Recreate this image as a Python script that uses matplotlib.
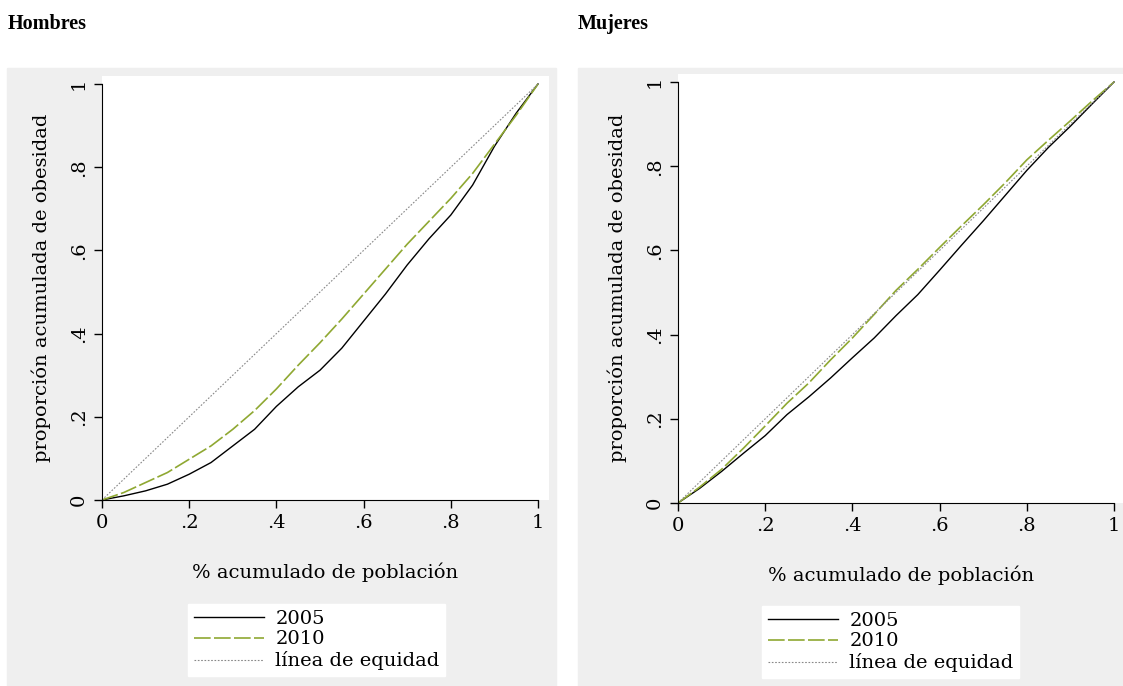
import matplotlib.pyplot as plt
from matplotlib.patches import Rectangle

# cumulative population share
pob = [0, .05, .1, .15, .2, .25, .3, .35, .4, .45, .5,
       .55, .6, .65, .7, .75, .8, .85, .9, .95, 1]

# Hombres
h2005 = [0, 0.01, 0.022, 0.038, 0.062, 0.09, 0.13, 0.17, 0.225, 0.272, 0.312,
         0.365, 0.43, 0.495, 0.565, 0.628, 0.685, 0.757, 0.85, 0.93, 1.0]
h2010 = [0, 0.018, 0.042, 0.066, 0.098, 0.13, 0.17, 0.215, 0.267, 0.324, 0.378,
         0.435, 0.495, 0.555, 0.615, 0.67, 0.725, 0.785, 0.855, 0.925, 1.0]

# Mujeres
m2005 = [0, 0.035, 0.075, 0.118, 0.16, 0.21, 0.252, 0.297, 0.345, 0.392, 0.445,
         0.495, 0.553, 0.612, 0.67, 0.73, 0.79, 0.845, 0.895, 0.948, 1.0]
m2010 = [0, 0.038, 0.08, 0.13, 0.183, 0.237, 0.285, 0.34, 0.392, 0.448, 0.505,
         0.555, 0.607, 0.658, 0.708, 0.76, 0.815, 0.862, 0.908, 0.955, 1.0]

ticks = [0, .2, .4, .6, .8, 1]
ticklabels = ['0', '.2', '.4', '.6', '.8', '1']
series_labels = ['2005', '2010', 'línea de equidad']

GREEN = '#8fa832'
GRAY_BG = '#efefef'
SERIF = ['DejaVu Serif']
TITLE_FONT = ['Liberation Serif', 'DejaVu Serif']

W, H = 1123, 686
fig = plt.figure(figsize=(W / 100, H / 100), dpi=100)


def px(x0, y_top, w, h):
    # pixel box (top-left origin) -> figure fraction
    return [x0 / W, 1 - (y_top + h) / H, w / W, h / H]


# grey graph regions, kept behind the axes
for x0, w in [(7, 549), (578, 545)]:
    fig.patches.append(Rectangle((x0 / W, 0), w / W, 1 - 68 / H,
                                 transform=fig.transFigure, color=GRAY_BG, zorder=-10))

fig.text(8 / W, 1 - 24 / H, 'Hombres', fontsize=14.5, fontweight='bold',
         family=TITLE_FONT, va='center', ha='left')
fig.text(578 / W, 1 - 24 / H, 'Mujeres', fontsize=14.5, fontweight='bold',
         family=TITLE_FONT, va='center', ha='left')

panels = [
    # x0 px, x1 px, y0 px, y1 px, curves, legend pos
    (102, 538, 500, 84, h2005, h2010, (178, 594)),
    (678, 1114, 503, 82, m2005, m2010, (752, 596)),
]

for x0, x1, y0, y1, c05, c10, (lx, ly) in panels:
    xm, ym = 1.025, 1.02
    w = (x1 - x0) * xm
    h = (y0 - y1) * ym
    ax = fig.add_axes(px(x0, y0 - h, w, h))
    ax.set_facecolor('white')
    ax.set_xlim(0, xm)
    ax.set_ylim(0, ym)

    l1, = ax.plot(pob, c05, color='black', lw=1.0)
    l2, = ax.plot(pob, c10, color=GREEN, lw=1.2, dashes=(10, 2))
    l3, = ax.plot([0, 1], [0, 1], color='#888888', lw=0.8, dashes=(1.5, 1.5))

    for s in ['top', 'right']:
        ax.spines[s].set_visible(False)
    ax.spines['left'].set_bounds(0, 1)
    ax.spines['bottom'].set_bounds(0, 1)
    ax.set_xticks(ticks)
    ax.set_xticklabels(ticklabels, family=SERIF, fontsize=14)
    ax.set_yticks(ticks)
    ax.set_yticklabels(ticklabels, family=SERIF, fontsize=14, rotation=90, va='center')
    ax.tick_params(length=6, width=1, pad=4)

    ax.set_xlabel('% acumulado de población', family=SERIF, fontsize=14, labelpad=22)
    ax.set_ylabel('proporción acumulada de obesidad', family=SERIF, fontsize=14, labelpad=14)

    fig.legend([l1, l2, l3], series_labels, loc='upper left',
               bbox_to_anchor=(lx / W, 1 - ly / H),
               prop={'family': SERIF, 'size': 14}, frameon=True,
               fancybox=False, edgecolor='white', framealpha=1,
               handlelength=3.6, handletextpad=0.6, labelspacing=0.15,
               borderpad=0.3)

fig.savefig('out.png', dpi=100)
